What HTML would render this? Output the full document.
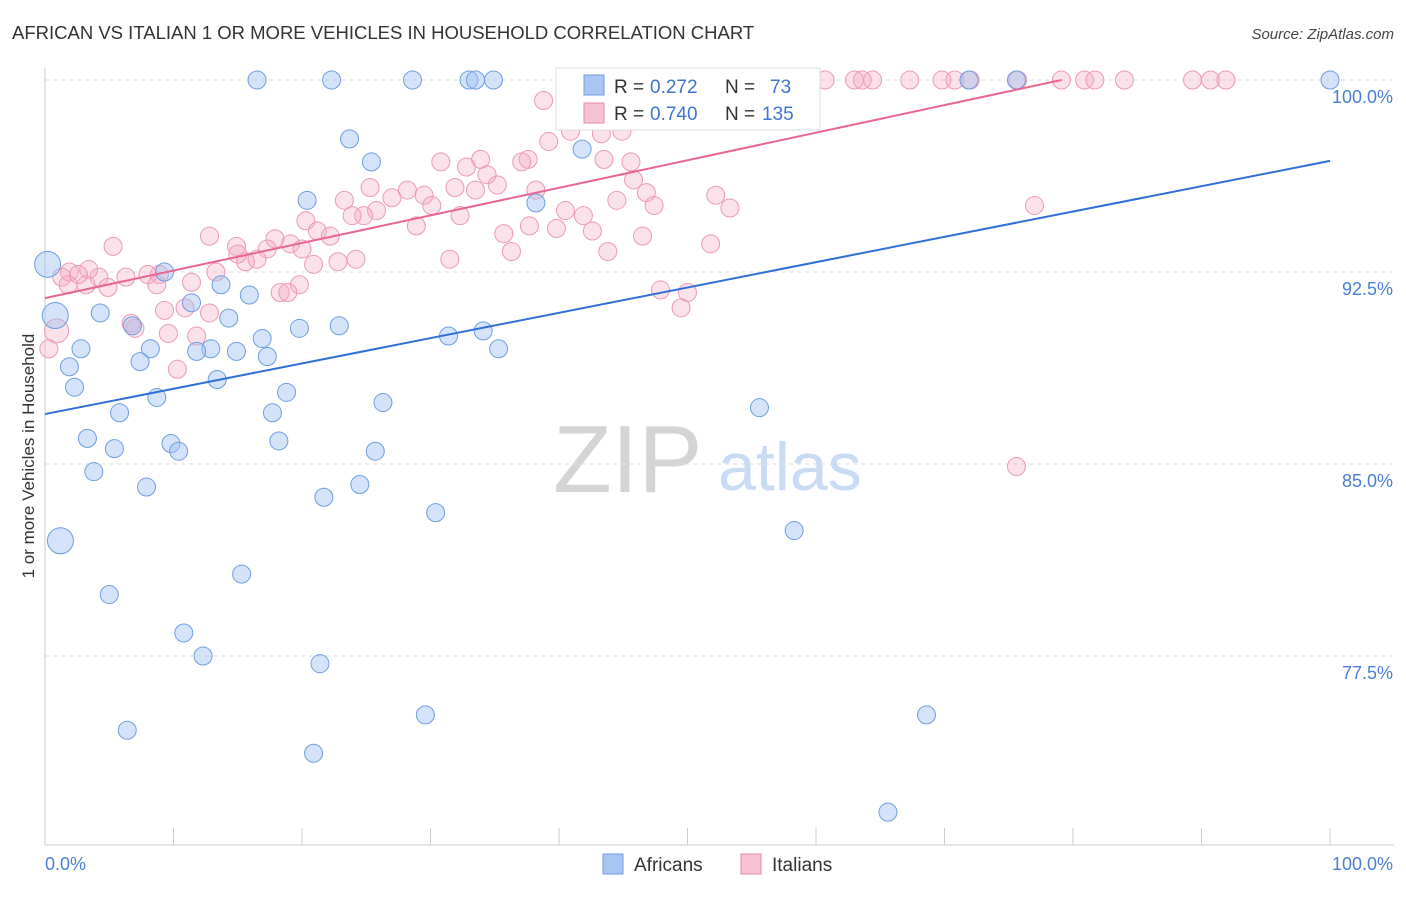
<!DOCTYPE html>
<html><head><meta charset="utf-8"><style>
body{margin:0;background:#fff;font-family:"Liberation Sans",sans-serif;}
svg text{font-family:"Liberation Sans",sans-serif;}
</style></head><body>
<svg id="chart" width="1406" height="892" xmlns="http://www.w3.org/2000/svg">
<text x="12" y="39" font-size="18.5" fill="#333">AFRICAN VS ITALIAN 1 OR MORE VEHICLES IN HOUSEHOLD CORRELATION CHART</text>
<text x="1394" y="39" font-size="15" fill="#444" text-anchor="end" font-style="italic">Source: ZipAtlas.com</text>
<g>
<text x="553" y="492" font-size="96" fill="#d4d4d4" font-family="Liberation Serif, serif">ZIP</text>
<text x="718" y="490" font-size="68" fill="#c9daf3">atlas</text>
</g>
<g id="grid"></g>
<g id="axes"></g>
<text transform="translate(34,456) rotate(-90)" font-size="17" fill="#333" text-anchor="middle">1 or more Vehicles in Household</text>
<g id="marks"></g>
<g id="trends"></g>
<g>
<rect x="556" y="68" width="264" height="62" fill="#fff" stroke="#ddd"/>
<rect x="584" y="75" width="20" height="20" fill="#a9c6f2" stroke="#6f9de0"/>
<text x="614" y="93" font-size="19" fill="#333">R = </text><text x="650" y="93" font-size="19" fill="#3f74d0">0.272</text>
<text x="725" y="93" font-size="19" fill="#333">N = </text><text x="770" y="93" font-size="19" fill="#3f74d0">73</text>
<rect x="584" y="103" width="20" height="20" fill="#f7c3d3" stroke="#e58aa8"/>
<text x="614" y="120" font-size="19" fill="#333">R = </text><text x="650" y="120" font-size="19" fill="#3f74d0">0.740</text>
<text x="725" y="120" font-size="19" fill="#333">N = </text><text x="762" y="120" font-size="19" fill="#3f74d0">135</text>
</g>
<g>
<rect x="603" y="854" width="20" height="20" fill="#a9c6f2" stroke="#6f9de0"/>
<text x="634" y="871" font-size="19" fill="#333">Africans</text></g>
<g>
<rect x="741" y="854" width="20" height="20" fill="#f7c3d3" stroke="#e58aa8"/>
<text x="772" y="871" font-size="19" fill="#333">Italians</text></g>
</svg>
<script>
const yTicks=[100,92.5,85,77.5];
const yTickLabels=["100.0%","92.5%","85.0%","77.5%"];
const xTicks=[0,10,20,30,40,50,60,70,80,90,100];
const blueX=[16.5,22.3,28.6,33.0,33.5,34.9,71.9,75.6,100,42.6,23.7,25.4,41.8,20.4,38.2,9.3,13.7,11.4,15.9,4.3,0.8,14.3,6.8,19.8,22.9,34.1,31.4,2.8,8.2,16.9,12.9,11.8,14.9,17.3,7.4,1.9,35.3,2.3,13.4,18.8,8.7,26.3,5.8,17.7,55.6,3.3,9.8,10.4,5.4,18.2,25.7,3.8,7.9,21.7,24.5,30.4,58.3,1.2,15.3,5.0,10.8,12.3,21.4,6.4,29.6,68.6,20.9,65.6,0.2];
const blueY=[100,100,100,100,100,100,100,100,100,99.9,97.7,96.8,97.3,95.3,95.2,92.5,92.0,91.3,91.6,90.9,90.8,90.7,90.4,90.3,90.4,90.2,90.0,89.5,89.5,89.9,89.5,89.4,89.4,89.2,89.0,88.8,89.5,88.0,88.3,87.8,87.6,87.4,87.0,87.0,87.2,86.0,85.8,85.5,85.6,85.9,85.5,84.7,84.1,83.7,84.2,83.1,82.4,82.0,80.7,79.9,78.4,77.5,77.2,74.6,75.2,75.2,73.7,71.4,92.8];
const blueBig=[20,57,68];
const pinkX=[41.2,42.3,43.2,44.1,45.1,46.3,48.0,50.0,51.0,51.9,52.7,54.2,55.0,55.8,56.4,57.0,58.0,58.8,60.7,63.0,63.6,64.4,67.3,69.8,70.8,72.0,75.7,79.1,80.9,81.7,84.0,89.3,90.7,91.9,
38.8,40.9,44.9,39.2,43.3,37.6,37.1,43.5,45.6,33.9,30.8,32.8,34.4,35.2,33.5,38.2,31.9,45.8,46.8,44.5,25.3,28.2,23.3,29.5,30.1,27.0,25.8,24.8,23.9,32.3,40.5,41.9,47.4,52.2,53.3,77.0,35.7,37.7,39.8,42.6,46.5,28.9,20.3,21.2,22.2,19.1,17.9,17.3,14.9,15.6,16.5,12.8,15.0,43.8,36.3,31.5,24.2,22.8,20.9,20.0,51.8,5.3,13.3,8.9,8.0,6.3,11.4,8.7,4.2,3.4,4.9,3.2,1.9,2.6,1.3,1.8,19.8,18.3,18.9,47.9,50.0,49.5,12.8,9.3,10.9,7.0,6.7,0.9,0.3,11.8,9.6,10.3,75.6];
const pinkY=[100,100,100,100,100,100,100,100,100,100,100,100,100,100,100,100,100,100,100,100,100,100,100,100,100,100,100,100,100,100,100,100,100,100,
99.2,98.0,98.0,97.6,97.9,96.9,96.8,96.9,96.8,96.9,96.8,96.6,96.3,95.9,95.7,95.7,95.8,96.1,95.6,95.3,95.8,95.7,95.3,95.5,95.1,95.4,94.9,94.7,94.7,94.7,94.9,94.7,95.1,95.5,95.0,95.1,94.0,94.3,94.2,94.1,93.9,94.3,94.5,94.1,93.9,93.6,93.8,93.4,93.5,92.9,93.0,93.9,93.2,93.3,93.3,93.0,93.0,92.9,92.8,93.4,93.6,93.5,92.5,92.4,92.4,92.3,92.1,92.0,92.3,92.6,91.9,92.0,92.5,92.4,92.3,92.0,92.0,91.7,91.7,91.8,91.7,91.1,90.9,91.0,91.1,90.3,90.5,90.2,89.5,90.0,90.1,88.7,84.9];
const blueTrend=[86.95,96.84];
const pinkTrend=[91.48,102.25];
const NS="http://www.w3.org/2000/svg";
const X0=45,X1=1330,YTOP=80,PX_PER=25.6;
const sx=v=>X0+(X1-X0)*v/100;
const sy=v=>YTOP+(100-v)*PX_PER;
function mk(tag,attrs,parent){const e=document.createElementNS(NS,tag);for(const k in attrs)e.setAttribute(k,attrs[k]);parent.appendChild(e);return e;}
const grid=document.getElementById('grid'),axes=document.getElementById('axes'),marks=document.getElementById('marks'),trends=document.getElementById('trends');
yTicks.forEach((t,i)=>{
 const l=mk('line',{x1:X0,x2:1394,y1:sy(t),y2:sy(t),stroke:'#ddd','stroke-dasharray':'4,4'},grid);
 
 
 const tx=mk('text',{x:1393,y:sy(t)+23,'font-size':18,fill:'#4a7fd4','text-anchor':'end'},axes);
 tx.textContent=yTickLabels[i];
 
 
});
mk('line',{x1:X0,x2:X0,y1:68,y2:845,stroke:'#ccc'},axes);
mk('line',{x1:X0,x2:1394,y1:845,y2:845,stroke:'#ccc'},axes);
xTicks.forEach(t=>{
 const l=mk('line',{x1:sx(t),x2:sx(t),y1:828,y2:845,stroke:'#ccc'},axes);
 
 
});
const xl0=mk('text',{x:45,y:870,'font-size':18,fill:'#4a7fd4'},axes);xl0.textContent='0.0%';


const xl1=mk('text',{x:1393,y:870,'font-size':18,fill:'#4a7fd4','text-anchor':'end'},axes);xl1.textContent='100.0%';


pinkX.forEach((x,i)=>{
 const c=mk('circle',{cx:sx(x),cy:sy(pinkY[i]),r:(i==pinkX.length-6)?12:9,fill:'rgba(244,170,195,0.35)',stroke:'#eb9ab4','stroke-width':1},marks);
 
 
});
blueX.forEach((x,i)=>{
 const c=mk('circle',{cx:sx(x),cy:sy(blueY[i]),r:blueBig.includes(i)?13:9,fill:'rgba(160,192,242,0.45)',stroke:'#6f9de0','stroke-width':1},marks);
 
 
});
const bl=mk('line',{x1:sx(0),y1:sy(blueTrend[0]),x2:sx(100),y2:sy(blueTrend[1]),stroke:'#2f6fd6','stroke-width':2},trends);


const slope=(pinkTrend[1]-pinkTrend[0])/100;
const xEnd=Math.min(100,(100-pinkTrend[0])/slope);
const pl=mk('line',{x1:sx(0),y1:sy(pinkTrend[0]),x2:sx(xEnd),y2:sy(pinkTrend[0]+slope*xEnd),stroke:'#e8668f','stroke-width':2},trends);


</script>
</body></html>
